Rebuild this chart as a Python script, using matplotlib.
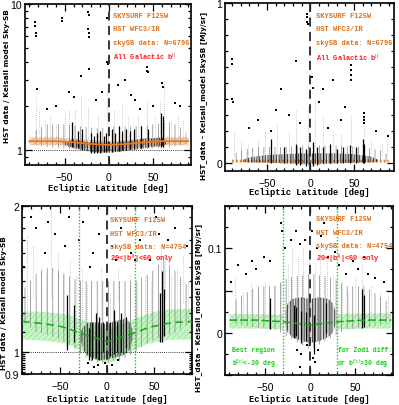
import matplotlib
matplotlib.use("Agg")
import matplotlib.pyplot as plt
from matplotlib.ticker import FixedLocator, FixedFormatter, MultipleLocator, NullFormatter

plt.rcParams['hatch.linewidth'] = 0.5

# ---------------- DATA ----------------
# Panel 1: ratio HST / Kelsall, all Galactic latitudes (log y)
p1_fit_lat = [-90, -60, -40, -20, 0, 20, 40, 60, 90]
p1_fit = [1.15, 1.15, 1.13, 1.10, 1.085, 1.10, 1.13, 1.15, 1.15]
p1_band_lo = [1.08, 1.08, 1.06, 1.02, 0.99, 1.02, 1.06, 1.08, 1.08]
p1_band_hi = [1.22, 1.22, 1.20, 1.17, 1.15, 1.17, 1.20, 1.22, 1.22]
p1_sp_lat = [-88, -80, -70, -50, -30, -10, 0, 10, 30, 50, 70, 80, 88]
p1_sp_lo = [1.1, 1.07, 1.05, 1.03, 0.99, 0.96, 0.96, 0.97, 1.0, 1.03, 1.05, 1.07, 1.1]
p1_sp_hi = [1.3, 1.4, 1.5, 1.5, 1.45, 1.4, 1.45, 1.45, 1.45, 1.5, 1.55, 1.45, 1.3]
p1_dn_lat = [-50, -45, -40, -30, -20, -10, 0, 10, 20, 30, 40, 50, 60, 65]
p1_dn_lo = [1.09, 1.05, 1.03, 1.0, 0.97, 0.96, 0.96, 0.97, 0.99, 1.01, 1.03, 1.05, 1.06, 1.1]
p1_dn_hi = [1.12, 1.16, 1.18, 1.15, 1.13, 1.12, 1.12, 1.13, 1.15, 1.17, 1.2, 1.2, 1.22, 1.14]
p1_col_lat = [-42, -35, -30, -20, -17, -14, -10, -6, -3, 3, 7, 11, 15, 19, 24, 29, 36, 44, 59, 61]
p1_col_lo = [1.05, 1.03, 1.0, 0.95, 0.95, 0.95, 0.96, 0.97, 0.97, 0.97, 0.98, 0.99, 1.0, 1.0, 1.01, 1.02, 1.04, 1.05, 1.05, 1.05]
p1_col_hi = [1.55, 1.35, 1.4, 1.3, 1.25, 1.3, 1.35, 1.25, 1.3, 1.4, 1.3, 1.45, 1.35, 1.4, 1.35, 1.4, 1.45, 1.4, 1.8, 1.7]
p1_spc_lat = [-82, -79, -72, -67, -60, -50, -45, -38, -32, -24, -12, -2, 6, 15, 22, 33, 43, 52, 58, 62, 70, 78, 84]
p1_spc_lo = [1.25, 1.3, 1.2, 1.25, 1.2, 1.25, 1.2, 1.2, 1.2, 1.2, 1.2, 1.3, 1.2, 1.25, 1.2, 1.25, 1.3, 1.2, 1.3, 1.4, 1.2, 1.2, 1.2]
p1_spc_hi = [2.3, 1.9, 1.6, 1.7, 1.5, 1.8, 1.9, 1.9, 2.4, 2.0, 1.8, 2.6, 1.9, 2.1, 1.7, 1.8, 2.2, 1.7, 2.2, 3.0, 1.6, 1.8, 1.6]
p1_dot_lat = [-82, -82, -81, -53, -53, -24, -23, -24, -23, -23, -32, -22, -2, -1, 43, 43, 44, 60, 61,
              -45, -40, 10, 25, 30, -15, -60, 75, 80, -70, 35, 50, -8, 18, -2, -84, -84]
p1_dot_val = [6.3, 6.0, 2.6, 8.0, 7.6, 8.8, 8.4, 6.7, 6.3, 5.9, 3.2, 3.6, 4.0, 3.9, 3.7, 3.5, 3.4, 2.9, 2.7,
              2.5, 2.3, 2.8, 2.4, 2.2, 2.2, 2.0, 2.1, 2.0, 1.9, 1.9, 2.0, 2.5, 3.0, 8.0, 7.5, 7.1]

# Panel 2: difference HST - Kelsall, all Galactic latitudes [MJy/sr]
p2_fit_lat = [-90, -45, 0, 45, 90]
p2_fit = [0.012, 0.012, 0.011, 0.012, 0.012]
p2_sp_lat = [-90, -80, -60, -30, 0, 30, 60, 80, 90]
p2_sp_lo = [0.006, 0.003, 0.0, -0.005, -0.015, -0.005, 0.0, 0.003, 0.006]
p2_sp_hi = [0.05, 0.08, 0.1, 0.1, 0.11, 0.11, 0.1, 0.08, 0.05]
p2_dn_lat = [-78, -70, -50, -30, -10, 0, 10, 30, 50, 70, 78]
p2_dn_lo = [0.008, 0.004, 0.002, -0.002, -0.006, -0.008, -0.006, -0.002, 0.002, 0.004, 0.008]
p2_dn_hi = [0.02, 0.035, 0.05, 0.055, 0.06, 0.06, 0.06, 0.06, 0.055, 0.04, 0.02]
p2_col_lat = [-45, -30, -17, -12, -5, 3, 8, 14, 22, 30, 38, 45, 52, 60, 62]
p2_col_lo = [0.0, 0.0, -0.01, -0.01, -0.02, -0.02, -0.01, 0.0, 0.0, 0.0, 0.0, 0.0, 0.0, 0.0, 0.0]
p2_col_hi = [0.15, 0.10, 0.12, 0.10, 0.09, 0.13, 0.10, 0.10, 0.12, 0.09, 0.10, 0.11, 0.10, 0.15, 0.12]
p2_spc_lat = [-88, -80, -72, -60, -52, -38, -25, -16, -3, 5, 15, 26, 35, 47, 61, 70, 82, 88]
p2_spc_lo = [0.05, 0.04, 0.05, 0.05, 0.06, 0.06, 0.06, 0.1, 0.1, 0.1, 0.08, 0.07, 0.08, 0.1, 0.1, 0.06, 0.05, 0.05]
p2_spc_hi = [0.2, 0.14, 0.12, 0.15, 0.2, 0.25, 0.2, 0.33, 0.35, 0.4, 0.3, 0.2, 0.18, 0.3, 0.3, 0.15, 0.12, 0.17]
p2_dot_lat = [-90, -90, -90, -89, -16, -4, -4, -4, -3, 2, 3, 26, 47, 47, 47, 47, 15, -34, 61, 61, 61, 61,
              89, -45, -60, -25, 10, -12, 35, 40, -70, 75, 20, -40]
p2_dot_val = [0.65, 0.62, 0.40, 0.38, 0.64, 0.93, 0.91, 0.88, 0.87, 0.54, 0.47, 0.52, 0.61, 0.58, 0.55, 0.52,
              0.46, 0.46, 0.31, 0.29, 0.27, 0.25, 0.17, 0.20, 0.27, 0.30, 0.38, 0.25, 0.27, 0.35, 0.22, 0.20, 0.22, 0.33]

# Panel 3: ratio, 20<|b|<60 only (log y)
p3_fit_lat = [-90, -70, -50, -40, -30, -20, -10, 0, 10, 20, 30, 40, 50, 60, 70, 90]
p3_fit = [1.155, 1.145, 1.13, 1.115, 1.095, 1.08, 1.065, 1.05, 1.065, 1.08, 1.095, 1.115, 1.13, 1.14, 1.15, 1.155]
p3_band_lo = [1.06, 1.055, 1.045, 1.035, 1.01, 0.99, 0.965, 0.945, 0.965, 0.99, 1.01, 1.035, 1.045, 1.055, 1.06, 1.06]
p3_band_hi = [1.21, 1.21, 1.2, 1.19, 1.17, 1.15, 1.13, 1.11, 1.13, 1.15, 1.17, 1.19, 1.21, 1.22, 1.225, 1.225]
p3_sp_lat = [-88, -75, -60, -45, -30, -15, 0, 15, 30, 45, 60, 75, 88]
p3_sp_lo = [1.15, 1.1, 1.08, 1.05, 1.0, 0.95, 0.95, 0.96, 1.0, 1.05, 1.08, 1.1, 1.15]
p3_sp_hi = [1.35, 1.45, 1.5, 1.45, 1.4, 1.4, 1.4, 1.4, 1.4, 1.45, 1.55, 1.45, 1.35]
p3_dn_lat = [-28, -24, -20, -10, 0, 10, 20, 24, 27]
p3_dn_lo = [1.06, 1.0, 0.98, 0.96, 0.965, 0.975, 0.99, 1.01, 1.06]
p3_dn_hi = [1.1, 1.13, 1.15, 1.15, 1.14, 1.16, 1.17, 1.15, 1.11]
p3_col_lat = [-42, -35, -19, -16, -12, -9, -4, 3, 7, 11, 15, 20, 56, 58, 60]
p3_col_lo = [1.01, 1.05, 0.96, 0.96, 0.97, 0.96, 1.0, 0.98, 0.99, 1.0, 1.0, 1.02, 1.05, 1.05, 1.08]
p3_col_hi = [1.31, 1.25, 1.12, 1.15, 1.2, 1.18, 1.15, 1.15, 1.22, 1.15, 1.2, 1.18, 1.32, 1.47, 1.35]
p3_spc_lat = [-85, -78, -70, -65, -59, -52, -47, -39, -33, -27, -21, -6, 3, 12, 24, 32, 40, 47, 57, 61, 68, 74, 80, 86]
p3_spc_lo = [1.2, 1.3, 1.15, 1.2, 1.3, 1.15, 1.1, 1.13, 1.12, 1.1, 1.1, 1.1, 1.15, 1.28, 1.12, 1.1, 1.12, 1.15, 1.23, 1.29, 1.2, 1.15, 1.26, 1.15]
p3_spc_hi = [1.75, 1.65, 1.5, 1.45, 2.0, 1.6, 1.45, 1.55, 1.44, 1.5, 1.39, 1.5, 1.33, 1.5, 1.44, 1.4, 1.45, 1.4, 1.63, 1.58, 1.45, 1.5, 1.58, 1.4]
p3_dot_lat = [-80, -75, -62, -55, -45, -30, -25, -15, -8, 5, 15, 25, 35, 45, 52, 65, 72, 85, -88, -66, -40,
              -18, 10, 30, 55, -14, -10, -2, 5, 12, -20]
p3_dot_val = [1.9, 1.8, 1.85, 1.75, 1.65, 1.7, 1.85, 1.6, 1.75, 1.65, 1.8, 1.6, 1.7, 1.55, 1.9, 1.7, 1.8, 1.65,
              1.5, 1.6, 1.9, 1.5, 1.55, 1.55, 1.75, 0.93, 0.94, 0.95, 0.94, 0.96, 0.95]

# Panel 4: difference, 20<|b|<60 only [MJy/sr]
p4_fit_lat = [-90, -60, -30, -15, 0, 15, 30, 60, 90]
p4_fit = [0.015, 0.015, 0.013, 0.011, 0.009, 0.011, 0.013, 0.015, 0.015]
p4_bandL_lat = [-90, -60, -30]
p4_bandR_lat = [30, 60, 90]
p4_bandL_lo = [0.005, 0.005, 0.004]
p4_bandL_hi = [0.022, 0.022, 0.021]
p4_bandR_lo = [0.004, 0.005, 0.005]
p4_bandR_hi = [0.022, 0.023, 0.023]
p4_sp_lat = [-88, -75, -60, -40, -25, 0, 25, 40, 60, 75, 88]
p4_sp_lo = [0.012, 0.009, 0.006, 0.004, -0.005, -0.02, -0.005, 0.004, 0.006, 0.009, 0.012]
p4_sp_hi = [0.035, 0.045, 0.055, 0.055, 0.065, 0.07, 0.065, 0.055, 0.055, 0.045, 0.035]
p4_dn_lat = [-28, -25, -20, -10, 0, 10, 20, 25, 28]
p4_dn_lo = [0.01, 0.0, -0.005, -0.01, -0.012, -0.01, -0.005, 0.0, 0.01]
p4_dn_hi = [0.025, 0.035, 0.04, 0.042, 0.04, 0.042, 0.04, 0.035, 0.025]
p4_col_lat = [-45, -18, -16, -10, -5, 4, 17, 58, 60]
p4_col_lo = [0.004, -0.006, -0.004, -0.012, -0.01, -0.025, 0.0, 0.006, 0.007]
p4_col_hi = [0.041, 0.033, 0.03, 0.026, 0.025, 0.021, 0.035, 0.052, 0.045]
p4_spc_lat = [-84, -75, -66, -58, -50, -40, -33, -25, -20, -14, -8, -2, 5, 11, 18, 25, 35, 42, 50, 57, 67, 77, 86]
p4_spc_lo = [0.022, 0.02, 0.025, 0.025, 0.02, 0.02, 0.02, 0.03, 0.035, 0.04, 0.04, 0.04, 0.04, 0.04, 0.04, 0.04, 0.025, 0.02, 0.02, 0.03, 0.025, 0.02, 0.02]
p4_spc_hi = [0.065, 0.05, 0.06, 0.05, 0.06, 0.055, 0.06, 0.08, 0.1, 0.09, 0.1, 0.09, 0.08, 0.1, 0.085, 0.07, 0.06, 0.05, 0.065, 0.08, 0.055, 0.05, 0.045]
p4_dot_lat = [-80, -72, -60, -52, -45, -33, -32, -28, -22, -16, -12, -6, 2, 7, 12, 20, 27, 32, 40, 47, 53, 60,
              64, 72, 82, -88, -65, 15, -15, -10, 3, 5, 8, -4, -11]
p4_dot_val = [0.08, 0.07, 0.075, 0.09, 0.085, 0.13, 0.12, 0.1, 0.11, 0.12, 0.105, 0.11, 0.12, 0.1, 0.115, 0.09,
              0.095, 0.08, 0.07, 0.085, 0.075, 0.09, 0.07, 0.065, 0.06, 0.06, 0.085, 0.13, -0.02, -0.025, -0.03,
              -0.035, -0.02, -0.015, -0.04]

label_lines_all = ["SKYSURF F125W", "HST WFC3/IR", "skySB data: N=6796"]
label_lines_sel = ["SKYSURF F125W", "HST WFC3/IR", "skySB data: N=4754"]
ratio_ylabel = "HST data / Kelsall model Sky-SB"
diff_ylabel = "HST_data - Kelsall_model SkySB [MJy/sr]"
x_label = "Ecliptic Latitude [deg]"

ORANGE = "#d9701c"
RED = "#ff1a1a"
GREEN = "#19c819"
MONO = "Liberation Mono"
SANS = "Liberation Sans"
TXT_FS = 5.0

fig = plt.figure(figsize=(3.99, 4.06), dpi=100)
W, H = 399.0, 406.0


def make_ax(x0, y0, x1, y1):
    return fig.add_axes([x0 / W, 1 - y1 / H, (x1 - x0) / W, (y1 - y0) / H])


def draw_cloud(ax, sp_lat, sp_lo, sp_hi, dn_lat, dn_lo, dn_hi, col_lat, col_lo, col_hi,
               spc_lat, spc_lo, spc_hi, dot_lat, dot_val):
    ax.fill_between(sp_lat, sp_lo, sp_hi, facecolor="none", edgecolor="0.5",
                    hatch="|||", linewidth=0, zorder=2)
    ax.fill_between(dn_lat, dn_lo, dn_hi, facecolor="0.3", alpha=0.2, linewidth=0, zorder=3)
    ax.fill_between(dn_lat, dn_lo, dn_hi, facecolor="none", edgecolor="0.05",
                    hatch="||||||", linewidth=0, zorder=3)
    ax.vlines(spc_lat, spc_lo, spc_hi, colors="0.35", linewidth=0.5,
              linestyles=(0, (0.6, 2.4)), zorder=2)
    ax.vlines(col_lat, col_lo, col_hi, colors="k", linewidth=0.9, zorder=3)
    ax.scatter(dot_lat, dot_val, s=0.7, c="k", marker="s", linewidths=0, zorder=3)


def style(ax, xlim):
    ax.set_xlim(*xlim)
    ax.xaxis.set_major_locator(FixedLocator([-50, 0, 50]))
    ax.xaxis.set_minor_locator(MultipleLocator(10))
    ax.tick_params(which="both", direction="in", top=True, right=True, width=0.9)
    ax.tick_params(which="major", length=5)
    ax.tick_params(which="minor", length=2.5)
    ax.tick_params(axis="x", pad=5)
    ax.tick_params(axis="y", pad=2)
    for lab in ax.get_xticklabels() + ax.get_yticklabels():
        lab.set_fontfamily(SANS)
        lab.set_fontsize(7.5)
    for s in ax.spines.values():
        s.set_linewidth(1.2)
    ax.axvline(0, color="0.15", linewidth=1.3, linestyle=(0, (5, 3)), zorder=4)


def texts(ax, x, ys, lines, last, last_color):
    for yy, t in zip(ys[:3], lines):
        ax.text(x, yy, t, transform=ax.transAxes, color=ORANGE, fontsize=TXT_FS,
                family=MONO, weight="bold", va="center", ha="left", zorder=6)
    ax.text(x, ys[3], last, transform=ax.transAxes, color=last_color, fontsize=TXT_FS,
            family=MONO, weight="bold", va="center", ha="left", zorder=6)


def labels(ax, ylabel, ylx, yly, xly, xlx=0.5):
    ax.set_ylabel(ylabel, fontsize=5.3, family="DejaVu Sans", weight="bold")
    ax.yaxis.set_label_coords(ylx, yly)
    ax.set_xlabel(x_label, fontsize=6.3, family=MONO, weight="bold")
    ax.xaxis.set_label_coords(xlx, xly)


# ---------------- Panel 1 ----------------
ax1 = make_ax(25, 5, 191, 166)
ax1.set_yscale("log")
ax1.set_ylim(0.79, 10)
ax1.fill_between(p1_fit_lat, p1_band_lo, p1_band_hi, facecolor="#f7d5bd", edgecolor="#e9a070",
                 hatch="//////", linewidth=0, zorder=1)
draw_cloud(ax1, p1_sp_lat, p1_sp_lo, p1_sp_hi, p1_dn_lat, p1_dn_lo, p1_dn_hi,
           p1_col_lat, p1_col_lo, p1_col_hi, p1_spc_lat, p1_spc_lo, p1_spc_hi, p1_dot_lat, p1_dot_val)
ax1.plot(p1_fit_lat, p1_fit, color="#f07810", linewidth=1.3, zorder=5)
ax1.axhline(1.0, color="k", linewidth=0.6, linestyle=(0, (1, 1.5)), zorder=4)
ax1.yaxis.set_major_locator(FixedLocator([1, 10]))
ax1.yaxis.set_major_formatter(FixedFormatter(["1", "10"]))
ax1.yaxis.set_minor_locator(FixedLocator([0.8, 0.9, 2, 3, 4, 5, 6, 7, 8, 9]))
ax1.yaxis.set_minor_formatter(NullFormatter())
style(ax1, (-95, 93))
texts(ax1, 0.53, [0.93, 0.845, 0.76, 0.675], label_lines_all, r"All Galactic b$^{\rm II}$", RED)
labels(ax1, ratio_ylabel, -0.09, 0.56, -0.11)

# ---------------- Panel 2 ----------------
ax2 = make_ax(225, 4, 394, 172)
ax2.set_ylim(-0.05, 1.0)
draw_cloud(ax2, p2_sp_lat, p2_sp_lo, p2_sp_hi, p2_dn_lat, p2_dn_lo, p2_dn_hi,
           p2_col_lat, p2_col_lo, p2_col_hi, p2_spc_lat, p2_spc_lo, p2_spc_hi, p2_dot_lat, p2_dot_val)
ax2.plot(p2_fit_lat, p2_fit, color="#f08020", linewidth=2.0, linestyle=(0, (0.7, 0.7)),
         zorder=2.5)
ax2.yaxis.set_major_locator(FixedLocator([0, 1]))
ax2.yaxis.set_major_formatter(FixedFormatter(["0", "1"]))
ax2.yaxis.set_minor_locator(MultipleLocator(0.1))
style(ax2, (-98, 96))
texts(ax2, 0.54, [0.923, 0.847, 0.765, 0.676], label_lines_all, r"All Galactic b$^{\rm II}$", RED)
labels(ax2, diff_ylabel, -0.107, 0.45, -0.097)

# ---------------- Panel 3 ----------------
ax3 = make_ax(22, 207, 192, 375)
ax3.set_yscale("log")
ax3.set_ylim(0.9, 2.0)
ax3.fill_between(p3_fit_lat, p3_band_lo, p3_band_hi, facecolor="#c8f5c8", edgecolor="#8fe88f",
                 hatch="//////", linewidth=0, zorder=1)
draw_cloud(ax3, p3_sp_lat, p3_sp_lo, p3_sp_hi, p3_dn_lat, p3_dn_lo, p3_dn_hi,
           p3_col_lat, p3_col_lo, p3_col_hi, p3_spc_lat, p3_spc_lo, p3_spc_hi, p3_dot_lat, p3_dot_val)
ax3.plot(p3_fit_lat, p3_fit, color="#18a818", linewidth=1.1, linestyle=(0, (5, 3)), zorder=5)
ax3.axhline(1.0, color="k", linewidth=0.6, linestyle=(0, (1, 1.5)), zorder=4)
for xv in (-30, 30):
    ax3.axvline(xv, color=GREEN, linewidth=1.0, linestyle=(0, (1, 1.3)), zorder=4)
ax3.yaxis.set_major_locator(FixedLocator([0.9, 1, 2]))
ax3.yaxis.set_major_formatter(FixedFormatter(["0.9", "1", "2"]))
ax3.yaxis.set_minor_locator(FixedLocator([0.91, 0.92, 0.93, 0.94, 0.95, 0.96, 0.97, 0.98, 0.99,
                                          1.1, 1.2, 1.3, 1.4, 1.5, 1.6, 1.7, 1.8, 1.9]))
ax3.yaxis.set_minor_formatter(NullFormatter())
style(ax3, (-90, 90))
texts(ax3, 0.52, [0.917, 0.839, 0.757, 0.69], label_lines_sel, r"20<|b$^{\rm II}$|<60 only", RED)
labels(ax3, ratio_ylabel, -0.088, 0.43, -0.122)

# ---------------- Panel 4 ----------------
ax4 = make_ax(225, 207, 393, 376)
ax4.set_ylim(-0.05, 0.15)
ax4.fill_between(p4_bandL_lat, p4_bandL_lo, p4_bandL_hi, facecolor="#c8f5c8", edgecolor="#8fe88f",
                 hatch="//////", linewidth=0, zorder=1)
ax4.fill_between(p4_bandR_lat, p4_bandR_lo, p4_bandR_hi, facecolor="#c8f5c8", edgecolor="#8fe88f",
                 hatch="//////", linewidth=0, zorder=1)
draw_cloud(ax4, p4_sp_lat, p4_sp_lo, p4_sp_hi, p4_dn_lat, p4_dn_lo, p4_dn_hi,
           p4_col_lat, p4_col_lo, p4_col_hi, p4_spc_lat, p4_spc_lo, p4_spc_hi, p4_dot_lat, p4_dot_val)
ax4.plot(p4_fit_lat, p4_fit, color="#18a818", linewidth=1.1, linestyle=(0, (5, 2)), zorder=5)
for xv in (-30, 30):
    ax4.axvline(xv, color=GREEN, linewidth=1.0, linestyle=(0, (1, 1.3)), zorder=4)
ax4.yaxis.set_major_locator(FixedLocator([-0.05, 0, 0.05, 0.1, 0.15]))
ax4.yaxis.set_major_formatter(FixedFormatter(["", "0", "", "0.1", ""]))
ax4.yaxis.set_minor_locator(MultipleLocator(0.025))
style(ax4, (-95, 92))
texts(ax4, 0.54, [0.925, 0.845, 0.765, 0.69], label_lines_sel, r"20<|b$^{\rm II}$|<60 only", RED)
for (tx, ty, tt) in [(0.04, 0.148, "Best region"), (0.04, 0.071, r"b$^{\rm Ecl}$<-30 deg."),
                     (0.675, 0.148, "for Zodi diff:"), (0.665, 0.071, r"or b$^{\rm Ecl}$>30 deg")]:
    ax4.text(tx, ty, tt, transform=ax4.transAxes, color=GREEN, fontsize=4.7, family=MONO,
             weight="bold", va="center", ha="left", zorder=6)
labels(ax4, diff_ylabel, -0.135, 0.40, -0.115)

fig.savefig("out.png", dpi=100)
